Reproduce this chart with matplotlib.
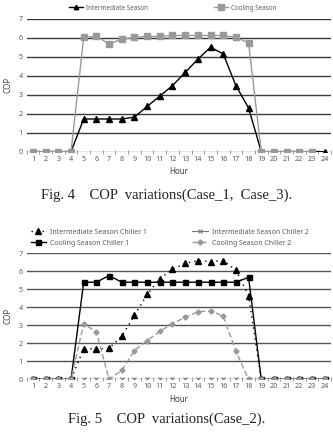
import matplotlib
matplotlib.use('Agg')
import matplotlib.pyplot as plt
import numpy as np

hours = list(range(1, 25))

# Fig. 4 (Case_1, Case_3)
inter_season = [0, 0, 0, 0, 1.72, 1.72, 1.72, 1.72, 1.82, 2.38, 2.93, 3.48, 4.17, 4.87, 5.5, 5.15,
                3.48, 2.3, 0, 0, 0, 0, 0, 0]
cool_season = [0, 0, 0, 0, 6.02, 6.08, 5.67, 5.92, 6.02, 6.07, 6.07, 6.12, 6.12, 6.12, 6.12, 6.12,
               6.02, 5.73, 0, 0, 0, 0, 0, np.nan]

# Fig. 5 (Case_2)
inter_ch1 = [0, 0, 0, 0, 1.7, 1.7, 1.72, 2.4, 3.55, 4.72, 5.6, 6.12, 6.45, 6.6, 6.55, 6.6,
             6.07, 4.65, 0, 0, 0, 0, 0, 0]
cool_ch1 = [0, 0, 0, 0, 5.4, 5.4, 5.77, 5.4, 5.4, 5.4, 5.4, 5.4, 5.4, 5.4, 5.4, 5.4,
            5.4, 5.67, 0, 0, 0, 0, 0, 0]
inter_ch2 = [0] * 24
cool_ch2 = [0, 0, 0, 0, 3.1, 2.63, 0, 0.5, 1.6, 2.15, 2.67, 3.1, 3.44, 3.76, 3.8, 3.52,
            1.57, 0, 0, 0, 0, 0, 0, 0]

yticks = [0, 1, 2, 3, 4, 5, 6, 7]

plt.rcParams['font.family'] = ['Noto Sans', 'DejaVu Sans']
txt = '#595959'

fig = plt.figure(figsize=(3.33, 4.37), dpi=100)


def style_axes(ax, grid_color):
    ax.set_xlim(0.5, 24.5)
    ax.set_ylim(0, 7)
    for y in yticks[1:]:
        ax.axhline(y, color=grid_color, lw=1.0, zorder=0)
    ax.axhline(0, color='#8c8c8c', lw=1.0, zorder=0)
    for s in ax.spines.values():
        s.set_visible(False)
    ax.set_yticks(yticks)
    ax.set_xticks(hours)
    ax.set_xticks(np.arange(0.5, 25, 1), minor=True)
    ax.tick_params(axis='both', which='major', length=0, labelsize=5.2, colors=txt, pad=3)
    ax.tick_params(axis='x', which='minor', length=2.5, direction='inout', color='#8c8c8c')
    ax.set_xlabel('Hour', fontsize=5.8, fontweight='bold', color='#404040', labelpad=3)
    ax.set_ylabel('COP', fontsize=5.8, fontweight='bold', color='#404040', labelpad=4)


# ---- Fig. 4 ----
ax1 = fig.add_axes([0.080, 0.653, 0.914, 0.304])
style_axes(ax1, '#3a3a3a')
l1, = ax1.plot(hours, inter_season, color='black', lw=1.0, marker='^', ms=3.8, zorder=3,
               label='Intermediate Season')
l2, = ax1.plot(hours, cool_season, color='#999999', lw=1.0, marker='s', ms=4.3, zorder=4,
               label='Cooling Season')
ax1.legend(handles=[l1, l2], loc='lower center', bbox_to_anchor=(0.48, 1.03), ncol=2,
           frameon=False, fontsize=4.5, handlelength=2.3, handletextpad=0.5,
           columnspacing=10.5, labelcolor=txt, borderaxespad=0.1, markerscale=0.85)
fig.text(0.5, 0.554, 'Fig. 4    COP  variations(Case_1,  Case_3).', ha='center', va='center',
         family='Liberation Serif', fontsize=10.5, color='#222222')

# ---- Fig. 5 ----
ax2 = fig.add_axes([0.080, 0.132, 0.914, 0.288])
style_axes(ax2, '#555555')
h1, = ax2.plot(hours, inter_ch1, color='black', lw=1.0, ls=(0, (1, 3)), marker='^', ms=3.8,
               zorder=3, label='Intermediate Season Chiller 1')
h2, = ax2.plot(hours, cool_ch1, color='black', lw=1.0, marker='s', ms=3.6, zorder=4,
               label='Cooling Season Chiller 1')
h3, = ax2.plot(hours, inter_ch2, color='#777777', lw=0.8, marker='x', ms=3.2, mew=0.8,
               zorder=5, label='Intermediate Season Chiller 2')
h4, = ax2.plot(hours, cool_ch2, color='#999999', lw=1.0, ls=(0, (4, 2)), marker='D', ms=2.6,
               zorder=6, label='Cooling Season Chiller 2')
ax2.legend(handles=[h1, h2, h3, h4], loc='lower left', bbox_to_anchor=(0.0, 1.02), ncol=2,
           frameon=False, fontsize=5.0, handlelength=2.2, handletextpad=0.6,
           columnspacing=6.5, labelcolor=txt, borderaxespad=0.2, labelspacing=0.6)
fig.text(0.5, 0.041, 'Fig. 5    COP  variations(Case_2).', ha='center', va='center',
         family='Liberation Serif', fontsize=10.5, color='#222222')

fig.savefig('out.png', dpi=100)
